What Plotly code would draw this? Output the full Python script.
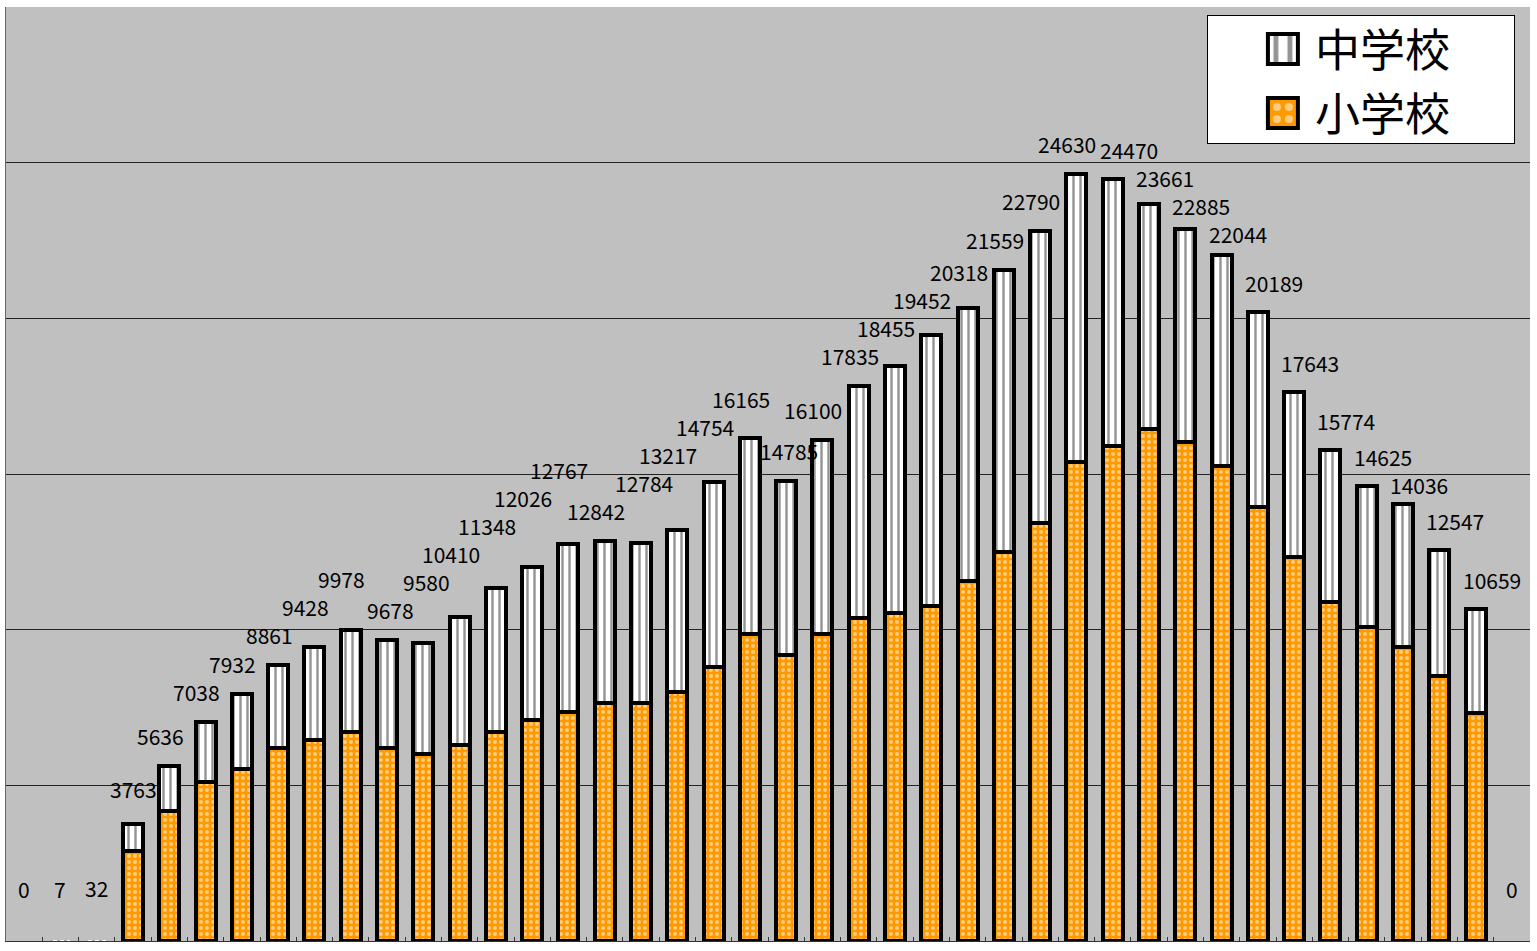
import plotly.graph_objects as go

# ---------------- data ----------------
categories = ["c01", "c02", "c03", "c04", "c05", "c06", "c07", "c08", "c09", "c10",
              "c11", "c12", "c13", "c14", "c15", "c16", "c17", "c18", "c19", "c20",
              "c21", "c22", "c23", "c24", "c25", "c26", "c27", "c28", "c29", "c30",
              "c31", "c32", "c33", "c34", "c35", "c36", "c37", "c38", "c39", "c40",
              "c41", "c42"]

totals = [0, 7, 32, 3763, 5636, 7038, 7932, 8861, 9428, 9978,
          9678, 9580, 10410, 11348, 12026, 12767, 12842, 12784, 13217, 14754,
          16165, 14785, 16100, 17835, 18455, 19452, 20318, 21559, 22790, 24630,
          24470, 23661, 22885, 22044, 20189, 17643, 15774, 14625, 14036, 12547,
          10659, 0]

elementary = [0, 5, 25, 2890, 4190, 5120, 5510, 6190, 6450, 6700,
              6190, 6010, 6310, 6700, 7090, 7350, 7630, 7630, 8010, 8800,
              9860, 9200, 9860, 10380, 10520, 10770, 11560, 12490, 13420, 15380,
              15900, 16430, 16030, 15250, 13930, 12350, 10900, 10100, 9450, 8520,
              7320, 0]

junior = [0, 2, 7, 873, 1446, 1918, 2422, 2671, 2978, 3278,
          3488, 3570, 4100, 4648, 4936, 5417, 5212, 5154, 5207, 5954,
          6305, 5585, 6240, 7455, 7935, 8682, 8758, 9069, 9370, 9250,
          8570, 7231, 6855, 6794, 6259, 5293, 4874, 4525, 4586, 4027,
          3339, 0]

name_elem = "小学校"
name_junior = "中学校"

# ---------------- styles ----------------
FONT = "Noto Sans CJK JP"
ORANGE = "#FF9900"
BORDER_W = 4
WIDTH, HEIGHT = 1537, 951
MARGIN = dict(l=6, r=7, t=7, b=10)
Y_MAX = 30000
LABEL_SIZE = 21
line_widths = [BORDER_W if t >= 100 else 0 for t in totals]

fig = go.Figure()
fig.add_trace(go.Bar(
    x=categories, y=elementary, name=name_elem,
    marker=dict(color=ORANGE,
                line=dict(color="black", width=line_widths),
                pattern=dict(shape=".", fgcolor="white", bgcolor=ORANGE,
                             size=6, solidity=0.35)),
    hoverinfo="skip",
))
fig.add_trace(go.Bar(
    x=categories, y=junior, name=name_junior,
    marker=dict(color="white",
                line=dict(color="black", width=line_widths),
                pattern=dict(shape="|", fgcolor="#2a2a2a", bgcolor="white",
                             size=7, solidity=0.35)),
    hoverinfo="skip",
))

# ---------------- value labels above each stack (simple collision avoidance) ----------------
plot_w = WIDTH - MARGIN["l"] - MARGIN["r"]
plot_h = HEIGHT - MARGIN["t"] - MARGIN["b"]
px_per_cat = plot_w / len(categories)
px_per_unit = plot_h / Y_MAX
char_w = LABEL_SIZE * 0.58
clear = 28

peak = totals.index(max(totals))
placed = []  # (x_px, y_up_px, width, total)
annotations = []
for i, t in enumerate(totals):
    prev_t = totals[i - 1] if i > 0 else 0
    if t < 100:
        xs, ys = 0, 52
    elif t < 5000:
        xs, ys = 0, 35
    elif i <= peak:
        xs, ys = (3 if t < prev_t else -9), 30
    else:
        xs, ys = 16, 29
    w = len(str(t)) * char_w
    x_px = i * px_per_cat + xs
    bar_top = t * px_per_unit
    y_up = bar_top + ys
    if placed:
        xp, yp, wp, tp = placed[-1]
        if abs(x_px - xp) < (w + wp) / 2 and abs(y_up - yp) < clear:
            below = yp - clear
            if t < tp and below >= bar_top + 13:
                y_up = below
            else:
                y_up = yp + clear
    placed.append((x_px, y_up, w, t))
    annotations.append(dict(
        x=i, y=t, xref="x", yref="y", text=str(t), showarrow=False,
        xanchor="center", yanchor="middle", xshift=xs, yshift=y_up - bar_top,
        font=dict(family=FONT, size=LABEL_SIZE, color="black"),
    ))

fig.update_layout(
    width=WIDTH, height=HEIGHT,
    margin=MARGIN,
    paper_bgcolor="white",
    plot_bgcolor="#C0C0C0",
    barmode="stack",
    bargap=0.45,
    font=dict(family=FONT, color="black"),
    annotations=annotations,
    showlegend=True,
    legend=dict(
        x=0.788, y=0.9914, xanchor="left", yanchor="top",
        bgcolor="white", bordercolor="black", borderwidth=1,
        font=dict(family=FONT, size=45, color="black"),
        itemwidth=97, traceorder="reversed",
    ),
    xaxis=dict(
        type="category", range=[-0.5, len(categories) - 0.5],
        showticklabels=False, showgrid=False,
        ticks="inside", ticklen=4, tickson="boundaries", tickcolor="#333333",
        showline=True, linecolor="#333333", linewidth=1,
    ),
    yaxis=dict(
        range=[0, Y_MAX], dtick=5000,
        showticklabels=False, showgrid=True, gridcolor="#222222", gridwidth=1,
        zeroline=False, showline=True, linecolor="#666666", linewidth=1,
    ),
)

# enlarge legend swatches and tighten the legend box (cosmetic)
post = """
var gd = document.getElementById('{plot_id}');
function fixLegend(){
  var ps = gd.querySelectorAll('.legend .legendpoints path');
  ps.forEach(function(p){
    p.setAttribute('transform', 'translate(75,0) scale(2.5)');
    p.style.stroke = 'black';
    p.style.strokeWidth = '1.6px';
    p.style.strokeOpacity = '1';
  });
  var tr = gd.querySelectorAll('.legend .traces');
  tr.forEach(function(t, k){
    t.setAttribute('transform', 'translate(1,' + (34 + 64 * k) + ')');
  });
  var bg = gd.querySelector('.legend rect.bg');
  if (bg) { bg.setAttribute('width', '307'); bg.setAttribute('height', '128'); }
}
fixLegend();
gd.on('plotly_afterplot', fixLegend);
"""

fig.write_html("out.html", post_script=post)
